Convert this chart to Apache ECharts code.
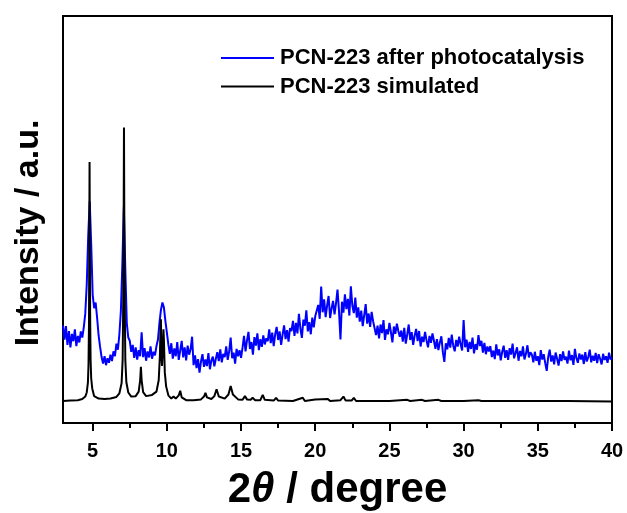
<!DOCTYPE html>
<html>
<head>
<meta charset="utf-8">
<script src="https://cdn.jsdelivr.net/npm/echarts@6/dist/echarts.min.js"></script>
<style>
html,body{margin:0;padding:0;background:#fff;}
#c{width:627px;height:513px;}
</style>
</head>
<body>
<div id="c"></div>
<script>
// ---- data ----
var seriesNames = ['PCN-223 after photocatalysis', 'PCN-223 simulated'];
var majorTicks = [5, 10, 15, 20, 25, 30, 35, 40];
var minorTicks = [7.5, 12.5, 17.5, 22.5, 27.5, 32.5, 37.5];
// blue pattern sampled every 0.1 degree from 3.0 to 40.0
var blueStart = 3.0;
var blueStep = 0.1;
var blueIntensity = [
  24.0,20.5,23.8,19.2,22.6,18.6,21.9,20.1,23.0,18.9,21.4,19.8,22.5,21.0,
  23.5,26.8,34.0,46.0,54.5,44.0,31.5,28.2,29.6,25.8,21.5,18.7,16.2,
  14.6,16.4,14.2,15.9,14.8,16.8,15.2,
  17.6,16.4,19.5,18.0,21.8,
  27.5,39.0,53.0,37.5,24.5,21.0,20.2,
  17.5,19.2,16.0,18.6,15.6,17.9,16.4,22.3,16.2,18.4,15.3,17.6,16.1,18.8,15.8,17.5,16.6,18.9,
  20.5,24.6,27.8,29.6,28.4,25.1,22.2,19.3,
  17.0,19.6,15.8,18.3,16.4,19.9,15.5,17.8,20.2,16.1,18.6,15.4,19.0,16.8,18.1,21.2,
  14.2,16.6,13.5,15.7,12.4,15.1,16.9,13.8,15.6,14.0,17.2,13.2,15.4,16.3,13.9,15.8,
  17.4,15.2,18.1,14.9,17.0,16.2,18.8,15.5,17.6,21.0,15.9,17.3,14.6,18.2,16.4,17.9,16.0,
  18.5,21.4,17.6,20.3,22.4,18.2,19.9,16.8,21.1,19.0,22.0,17.9,20.6,18.7,21.5,19.3,20.8,
  20.1,23.0,19.6,22.2,18.9,21.8,23.6,20.4,22.5,19.2,21.7,24.0,20.6,22.8,20.0,23.3,
  22.6,25.1,21.4,24.6,22.0,26.8,23.2,20.9,25.4,23.9,27.7,22.5,24.8,21.8,25.9,23.5,26.2,
  26.4,29.0,25.6,33.5,27.2,30.4,26.0,28.9,31.2,25.8,28.1,30.0,26.7,29.4,32.8,
  27.5,20.5,29.8,27.1,31.6,28.0,30.5,26.4,33.6,28.8,27.0,30.8,25.9,
  28.4,24.9,27.6,23.8,26.5,29.2,24.4,26.9,23.6,27.3,25.0,
  24.8,21.6,23.9,20.8,24.2,22.1,25.3,20.4,23.0,21.8,24.6,22.3,19.8,23.7,21.9,24.4,22.6,21.2,
  22.7,20.0,23.4,19.5,21.8,24.2,20.4,22.3,19.2,21.5,23.1,20.1,22.6,18.8,21.2,19.9,22.4,20.3,18.6,21.4,19.7,22.0,20.2,
  18.2,20.6,17.9,19.8,21.3,17.4,15.0,19.6,18.1,20.9,18.5,21.7,19.0,17.6,20.4,18.8,21.2,19.3,17.8,25.3,
  18.6,20.5,17.5,19.9,18.2,21.0,17.1,19.4,18.0,21.6,18.9,20.2,17.3,19.7,16.9,18.8,17.6,
  18.9,16.2,17.8,15.7,19.3,16.6,18.1,15.4,17.5,19.0,16.0,17.9,15.5,18.4,16.8,19.5,15.9,17.2,18.6,15.3,17.7,16.4,18.8,15.6,17.0,19.1,16.1,17.4,
  16.8,14.9,17.5,15.3,16.4,14.2,17.9,15.6,16.9,14.7,12.8,16.2,18.0,15.1,16.6,14.4,17.3,15.8,14.1,16.9,15.2,17.6,15.5,
  16.3,14.6,17.8,15.4,16.7,14.3,18.2,15.9,14.8,17.1,15.6,16.8,14.5,17.4,15.1,16.2,18.0,14.9,16.5,15.3,17.2,14.7,16.9,15.8,14.4,17.0,15.5,16.4,14.8,17.3,15.6,16.1
];
// simulated pattern: two-theta positions and intensities
var simTheta = [
  3.0,3.5,4.0,4.3,4.5,4.6,4.68,4.72,4.75,4.77,4.79,4.81,4.83,4.86,4.9,4.97,5.1,5.4,5.8,6.2,
  6.6,6.8,6.95,7.02,7.06,7.09,7.11,7.13,7.16,7.2,7.27,7.4,7.6,7.9,8.1,8.2,8.25,8.3,8.4,8.6,
  9.0,9.3,9.45,9.53,9.58,9.6,9.63,9.67,9.72,9.77,9.8,9.86,9.95,10.1,10.3,10.45,10.5,10.6,10.8,10.9,
  11.0,11.3,11.8,12.3,12.5,12.6,12.7,13.0,13.2,13.35,13.5,13.9,14.15,14.3,14.45,14.8,15.1,15.26,15.4,15.65,
  15.78,15.95,16.3,16.46,16.6,17.2,17.36,17.5,18.5,19.16,19.3,19.99,20.1,20.85,21.0,21.7,21.9,22.05,22.45,22.6,
  22.75,23.5,25.0,26.2,26.4,27.2,27.4,28.3,28.5,30.0,31.0,31.2,33.0,35.0,37.0,40.0
];
var simIntensity = [
  5.4,5.5,5.6,5.9,6.5,7.5,10.0,14.5,24.0,42.0,64.1,44.0,26.0,15.5,11.0,8.5,6.6,6.0,5.9,6.0,
  6.4,7.3,9.8,15.5,30.0,52.0,72.6,52.0,30.0,15.5,10.0,7.5,6.5,6.6,7.7,10.5,13.8,10.5,7.6,6.6,
  6.9,7.7,10.5,16.5,24.0,25.5,17.0,14.0,18.0,23.0,20.5,12.5,9.0,6.8,6.0,6.5,6.9,6.0,6.8,7.9,
  6.3,5.6,5.6,5.8,6.5,7.4,6.3,5.9,6.6,8.3,6.5,6.0,7.0,9.1,7.0,5.8,5.7,6.6,5.8,5.7,
  6.2,5.6,5.6,6.9,5.7,5.5,6.2,5.5,5.4,6.2,5.4,5.8,5.4,5.9,5.4,5.6,6.5,5.5,5.5,6.2,
  5.4,5.4,5.4,5.7,5.4,5.7,5.4,5.7,5.4,5.4,5.6,5.4,5.4,5.4,5.4,5.3
];

// ---- build series data ----
var blueData = blueIntensity.map(function (v, i) {
  return [+(blueStart + i * blueStep).toFixed(1), v];
});
var simData = simTheta.map(function (t, i) { return [t, simIntensity[i]]; });

var FONT = 'Arial, "Liberation Sans", sans-serif';
var chart = echarts.init(document.getElementById('c'), null, {renderer: 'canvas'});
chart.setOption({
  animation: false,
  backgroundColor: '#fff',
  grid: {
    left: 63, right: 15, top: 16, bottom: 90,
    outerBoundsMode: 'none', containLabel: false,
    show: true, borderColor: '#000', borderWidth: 2, backgroundColor: 'transparent'
  },
  legend: {
    orient: 'vertical',
    left: 221, top: 47, padding: 0,
    itemWidth: 53, itemHeight: 2, itemGap: 6.5,
    icon: 'rect',
    textStyle: {fontFamily: FONT, fontWeight: 'bold', fontSize: 22, color: '#000', padding: [0, 0, 0, 1]},
    data: seriesNames
  },
  xAxis: [{
    type: 'value', min: 3, max: 40,
    axisLine: {show: false},
    splitLine: {show: false},
    axisTick: {show: true, customValues: majorTicks, length: 8, inside: false, lineStyle: {color: '#000', width: 2}},
    axisLabel: {customValues: majorTicks, margin: 18, fontFamily: FONT, fontWeight: 'bold', fontSize: 20, color: '#000'},
    name: '2{i|θ} / degree',
    nameLocation: 'middle',
    nameGap: 46,
    nameTextStyle: {
      fontFamily: FONT, fontWeight: 'bold', fontSize: 42, color: '#000',
      rich: {i: {fontFamily: FONT, fontWeight: 'bold', fontStyle: 'italic', fontSize: 42, color: '#000'}}
    }
  }, {
    type: 'value', min: 3, max: 40, position: 'bottom',
    axisLine: {show: false},
    splitLine: {show: false},
    axisTick: {show: true, customValues: minorTicks, length: 5, inside: false, lineStyle: {color: '#000', width: 2}},
    axisLabel: {show: false}
  }],
  yAxis: {
    type: 'value', min: 0, max: 100,
    axisLine: {show: false}, axisTick: {show: false}, axisLabel: {show: false}, splitLine: {show: false},
    name: 'Intensity / a.u.',
    nameLocation: 'middle',
    nameGap: 17,
    nameTextStyle: {fontFamily: FONT, fontWeight: 'bold', fontSize: 34, color: '#000', padding: [0, 27, 0, 0]}
  },
  series: [{
    name: seriesNames[0], type: 'line', data: blueData, showSymbol: false, symbol: 'none',
    lineStyle: {color: '#0000ff', width: 2}, itemStyle: {color: '#0000ff'}, z: 2
  }, {
    name: seriesNames[1], type: 'line', data: simData, showSymbol: false, symbol: 'none',
    lineStyle: {color: '#000000', width: 2}, itemStyle: {color: '#000000'}, z: 3
  }]
});
</script>
</body>
</html>
